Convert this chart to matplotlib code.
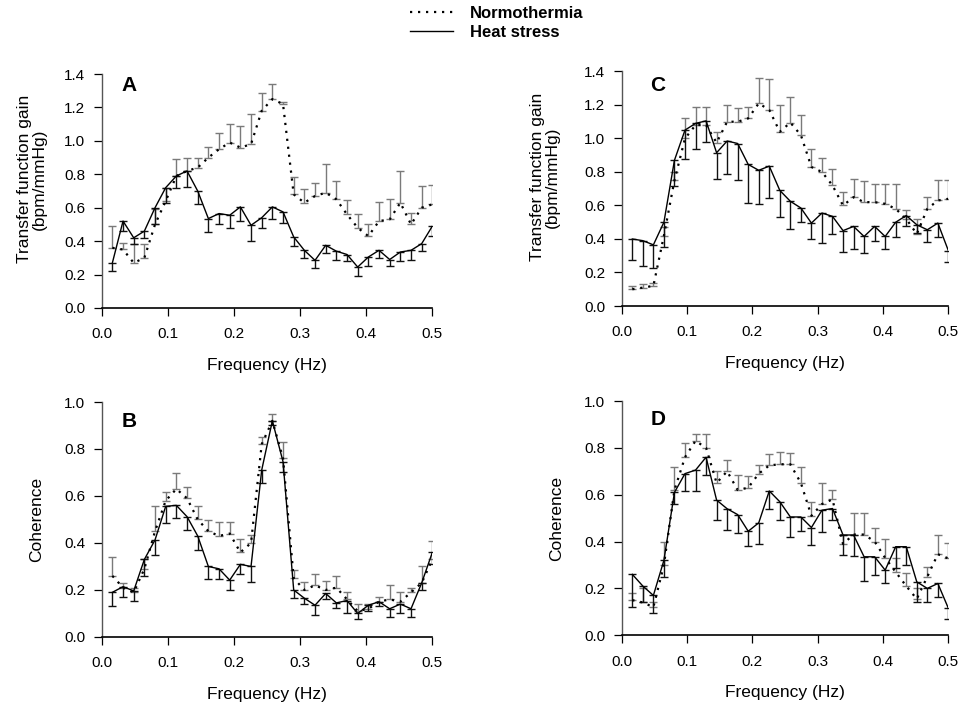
import numpy as np
import matplotlib
matplotlib.use('Agg')
import matplotlib.pyplot as plt
from matplotlib.lines import Line2D

plt.rcParams['font.family'] = ['Liberation Sans', 'DejaVu Sans']
plt.rcParams['font.size'] = 11

# frequency grid (Hz), 31 spectral estimates
freq = np.arange(1, 32) / 62

# A: transfer function gain
nt_A = [0.36, 0.35, 0.27, 0.30, 0.50, 0.64, 0.79, 0.82, 0.84, 0.90, 0.95, 0.99, 0.96, 0.98, 1.18, 1.25,
        1.22, 0.68, 0.63, 0.67, 0.69, 0.65, 0.56, 0.48, 0.43, 0.52, 0.53, 0.63, 0.50, 0.60, 0.62]
nt_A_se = [0.13, 0.04, 0.11, 0.08, 0.09, 0.08, 0.10, 0.08, 0.06, 0.065, 0.10, 0.11, 0.13, 0.18, 0.105, 0.09,
           0.015, 0.105, 0.08, 0.08, 0.17, 0.11, 0.085, 0.08, 0.07, 0.115, 0.125, 0.19, 0.07, 0.13, 0.115]
hs_A = [0.27, 0.52, 0.42, 0.46, 0.60, 0.72, 0.79, 0.82, 0.70, 0.535, 0.565, 0.555, 0.605, 0.495, 0.54, 0.605,
        0.575, 0.425, 0.345, 0.285, 0.375, 0.34, 0.32, 0.245, 0.305, 0.345, 0.29, 0.335, 0.345, 0.385, 0.49]
hs_A_se = [0.05, 0.06, 0.04, 0.04, 0.10, 0.09, 0.07, 0.095, 0.08, 0.08, 0.065, 0.075, 0.085, 0.095, 0.06, 0.07,
           0.065, 0.055, 0.045, 0.045, 0.045, 0.05, 0.04, 0.055, 0.055, 0.045, 0.04, 0.055, 0.06, 0.045, 0.06]

# B: coherence
nt_B = [0.26, 0.21, 0.19, 0.29, 0.45, 0.58, 0.63, 0.59, 0.50, 0.45, 0.43, 0.44, 0.36, 0.40, 0.82, 0.92,
        0.76, 0.25, 0.20, 0.22, 0.20, 0.21, 0.16, 0.11, 0.12, 0.15, 0.16, 0.15, 0.19, 0.23, 0.33]
nt_B_se = [0.08, 0.02, 0.02, 0.04, 0.108, 0.035, 0.067, 0.05, 0.058, 0.048, 0.06, 0.05, 0.056, 0.034, 0.032, 0.03,
           0.07, 0.035, 0.035, 0.05, 0.04, 0.05, 0.03, 0.03, 0.02, 0.02, 0.06, 0.04, 0.02, 0.07, 0.08]
hs_B = [0.19, 0.214, 0.196, 0.33, 0.413, 0.556, 0.56, 0.512, 0.43, 0.30, 0.29, 0.242, 0.309, 0.30, 0.71, 0.92,
        0.746, 0.20, 0.165, 0.135, 0.185, 0.145, 0.155, 0.10, 0.135, 0.15, 0.12, 0.14, 0.12, 0.23, 0.36]
hs_B_se = [0.06, 0.043, 0.044, 0.07, 0.064, 0.069, 0.052, 0.057, 0.06, 0.054, 0.042, 0.042, 0.043, 0.065, 0.056, 0.02,
           0.046, 0.036, 0.025, 0.04, 0.025, 0.02, 0.055, 0.025, 0.025, 0.02, 0.035, 0.04, 0.035, 0.03, 0.05]

# C: transfer function gain
nt_C = [0.10, 0.11, 0.12, 0.42, 0.75, 1.00, 1.08, 1.08, 0.975, 1.10, 1.10, 1.12, 1.21, 1.17, 1.04, 1.095,
        1.02, 0.83, 0.80, 0.72, 0.60, 0.65, 0.62, 0.62, 0.61, 0.58, 0.52, 0.43, 0.58, 0.63, 0.64]
nt_C_se = [0.02, 0.02, 0.02, 0.05, 0.05, 0.124, 0.11, 0.11, 0.065, 0.10, 0.08, 0.07, 0.15, 0.185, 0.16, 0.155,
           0.12, 0.105, 0.086, 0.10, 0.08, 0.11, 0.125, 0.11, 0.12, 0.146, 0.053, 0.09, 0.07, 0.125, 0.115]
hs_C = [0.40, 0.39, 0.365, 0.50, 0.87, 1.05, 1.09, 1.105, 0.915, 0.985, 0.97, 0.845, 0.81, 0.835, 0.69, 0.625,
        0.585, 0.495, 0.555, 0.535, 0.45, 0.475, 0.415, 0.475, 0.415, 0.50, 0.54, 0.485, 0.455, 0.495, 0.33]
hs_C_se = [0.125, 0.15, 0.14, 0.146, 0.154, 0.173, 0.15, 0.129, 0.159, 0.195, 0.22, 0.228, 0.203, 0.192, 0.157, 0.167,
           0.085, 0.095, 0.177, 0.107, 0.13, 0.137, 0.101, 0.085, 0.077, 0.086, 0.06, 0.051, 0.071, 0.081, 0.065]

# D: coherence
nt_D = [0.15, 0.14, 0.12, 0.30, 0.62, 0.76, 0.83, 0.80, 0.65, 0.70, 0.62, 0.63, 0.69, 0.725, 0.73, 0.73,
        0.65, 0.51, 0.56, 0.58, 0.39, 0.43, 0.43, 0.40, 0.33, 0.27, 0.21, 0.155, 0.25, 0.346, 0.328]
nt_D_se = [0.03, 0.06, 0.02, 0.10, 0.10, 0.06, 0.03, 0.06, 0.05, 0.05, 0.063, 0.05, 0.036, 0.048, 0.053, 0.048,
           0.07, 0.06, 0.09, 0.04, 0.04, 0.09, 0.09, 0.06, 0.08, 0.06, 0.057, 0.045, 0.04, 0.084, 0.067]
hs_D = [0.26, 0.21, 0.17, 0.32, 0.61, 0.69, 0.705, 0.76, 0.577, 0.54, 0.515, 0.444, 0.48, 0.616, 0.57, 0.505,
        0.505, 0.46, 0.534, 0.541, 0.428, 0.428, 0.335, 0.335, 0.278, 0.378, 0.378, 0.228, 0.20, 0.221, 0.115]
hs_D_se = [0.14, 0.07, 0.074, 0.07, 0.05, 0.073, 0.088, 0.077, 0.083, 0.091, 0.08, 0.064, 0.092, 0.079, 0.076, 0.085,
           0.059, 0.075, 0.094, 0.051, 0.086, 0.09, 0.105, 0.078, 0.057, 0.09, 0.078, 0.085, 0.057, 0.057, 0.046]

panels = [
    # letter, nt, nt_se, hs, hs_se, ylim top, ylabel, rect, label x, letter x, letter y
    ('A', nt_A, nt_A_se, hs_A, hs_A_se, 1.4, 'Transfer function gain\n(bpm/mmHg)',
     [0.1055, 0.5656, 0.343, 0.330], -0.165, 0.061, 0.95),
    ('B', nt_B, nt_B_se, hs_B, hs_B_se, 1.0, 'Coherence',
     [0.1055, 0.1016, 0.343, 0.3314], -0.175, 0.061, 0.915),
    ('C', nt_C, nt_C_se, hs_C, hs_C_se, 1.4, 'Transfer function gain\n(bpm/mmHg)',
     [0.645, 0.5684, 0.3388, 0.3308], -0.19, 0.087, 0.942),
    ('D', nt_D, nt_D_se, hs_D, hs_D_se, 1.0, 'Coherence',
     [0.645, 0.104, 0.3388, 0.3304], -0.177, 0.087, 0.923),
]

dot_style = (0, (1, 2.6))
fig = plt.figure(figsize=(9.64, 7.09), dpi=100)

for letter, nt, nt_se, hs, hs_se, ytop, ylab, rect, lab_x, let_x, let_y in panels:
    ax = fig.add_axes(rect)
    zeros = np.zeros(len(freq))
    # normothermia: error bars upward, grey
    ax.errorbar(freq, nt, yerr=[zeros, nt_se], fmt='none', ecolor='#7a7a7a',
                elinewidth=1.0, capsize=2.6, capthick=1.0)
    # heat stress: error bars downward, black
    ax.errorbar(freq, hs, yerr=[hs_se, zeros], fmt='none', ecolor='#111111',
                elinewidth=1.0, capsize=2.6, capthick=1.0)
    ax.plot(freq, nt, color='black', linestyle=dot_style, linewidth=1.6)
    ax.plot(freq, hs, color='black', linestyle='-', linewidth=1.0)

    ax.set_xlim(0, 0.5)
    ax.set_ylim(0, ytop)
    ax.set_xticks(np.arange(0, 0.51, 0.1))
    ax.set_yticks(np.arange(0, ytop + 0.01, 0.2))
    ax.xaxis.set_major_formatter(plt.FormatStrFormatter('%.1f'))
    ax.yaxis.set_major_formatter(plt.FormatStrFormatter('%.1f'))
    for s in ['top', 'right']:
        ax.spines[s].set_visible(False)
    ax.spines['left'].set_color('#555555')
    ax.spines['left'].set_linewidth(1.0)
    ax.spines['bottom'].set_linewidth(1.2)
    ax.tick_params(axis='both', direction='out', length=6, width=0.9, labelsize=11)
    ax.tick_params(axis='y', pad=6)
    ax.tick_params(axis='x', pad=8)
    ax.set_xlabel('Frequency (Hz)', fontsize=12.5, labelpad=12)
    ax.set_ylabel(ylab, fontsize=12.5, linespacing=1.0)
    ax.yaxis.set_label_coords(lab_x, 0.55 if ytop > 1.2 else 0.5)
    ax.text(let_x, let_y, letter, transform=ax.transAxes, fontsize=15,
            fontweight='bold', ha='left', va='center')

handles = [Line2D([], [], color='black', linestyle=dot_style, linewidth=1.6),
           Line2D([], [], color='black', linestyle='-', linewidth=1.0)]
fig.legend(handles, ['Normothermia', 'Heat stress'], loc='upper left',
           bbox_to_anchor=(398 / 964, 1.008), frameon=False, borderpad=0.2,
           handlelength=2.6, handletextpad=1.0, labelspacing=0.25,
           prop={'weight': 'bold', 'size': 12})

fig.savefig('out.png', dpi=100)
